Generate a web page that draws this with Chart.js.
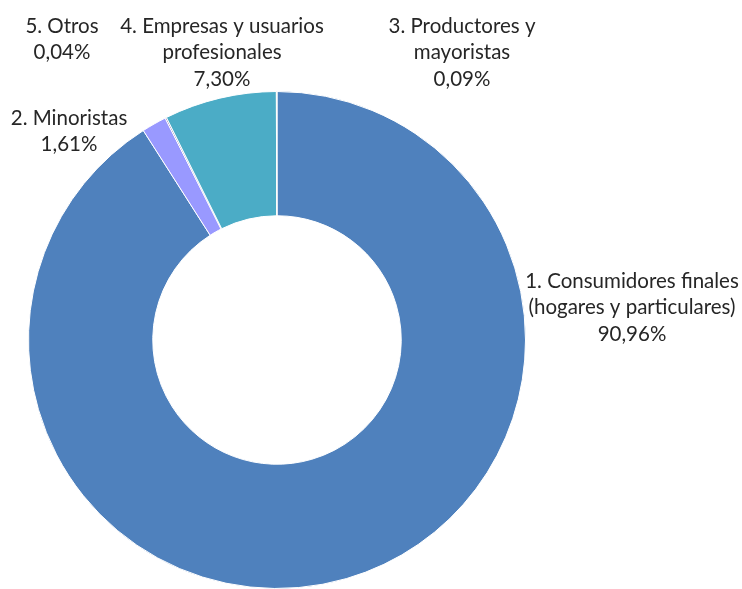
<!DOCTYPE html>
<html>
<head>
<meta charset="utf-8">
<script src="https://cdn.jsdelivr.net/npm/chart.js@4/dist/chart.umd.min.js"></script>
<style>
html,body{margin:0;padding:0;background:#fff;}
#wrap{width:742px;height:589px;position:relative;}
</style>
</head>
<body>
<div id="wrap"><canvas id="c" width="742" height="589"></canvas></div>
<script>
const categories = [
  ["1. Consumidores finales", "(hogares y particulares)"],
  ["2. Minoristas"],
  ["3. Productores y", "mayoristas"],
  ["4. Empresas y usuarios", "profesionales"],
  ["5. Otros"]
];
const values = [90.96, 1.61, 0.09, 7.30, 0.04];
const valueLabels = ["90,96%", "1,61%", "0,09%", "7,30%", "0,04%"];
const fillColors = ["#4F81BD", "#9999FF", "#8064A2", "#4BACC6", "#F79646"];
// label anchor (center x, first line center y)
const labelPos = [[632, 281], [69, 118], [462, 26], [222, 26], [62, 26]];

const labelPlugin = {
  id: 'labels',
  afterDraw(chart) {
    const ctx = chart.ctx;
    ctx.save();
    ctx.font = '20.5px Lato, "Open Sans", sans-serif';
    ctx.fillStyle = '#262626';
    ctx.textAlign = 'center';
    ctx.textBaseline = 'middle';
    const lh = 26.5;
    categories.forEach((lines, i) => {
      const [x, y] = labelPos[i];
      const all = lines.concat([valueLabels[i]]);
      all.forEach((t, j) => ctx.fillText(t, x, y + j * lh));
    });
    ctx.restore();
  }
};

new Chart(document.getElementById('c'), {
  type: 'doughnut',
  data: {
    labels: categories.map(l => l.join(' ')),
    datasets: [{
      data: values,
      backgroundColor: fillColors,
      borderColor: '#ffffff',
      borderWidth: 1,
      borderJoinStyle: 'miter'
    }]
  },
  options: {
    responsive: false,
    animation: false,
    cutout: '50%',
    layout: { padding: { left: 27, right: 215, top: 91, bottom: -2 } },
    plugins: { legend: { display: false }, tooltip: { enabled: false } }
  },
  plugins: [labelPlugin]
});
</script>
</body>
</html>
